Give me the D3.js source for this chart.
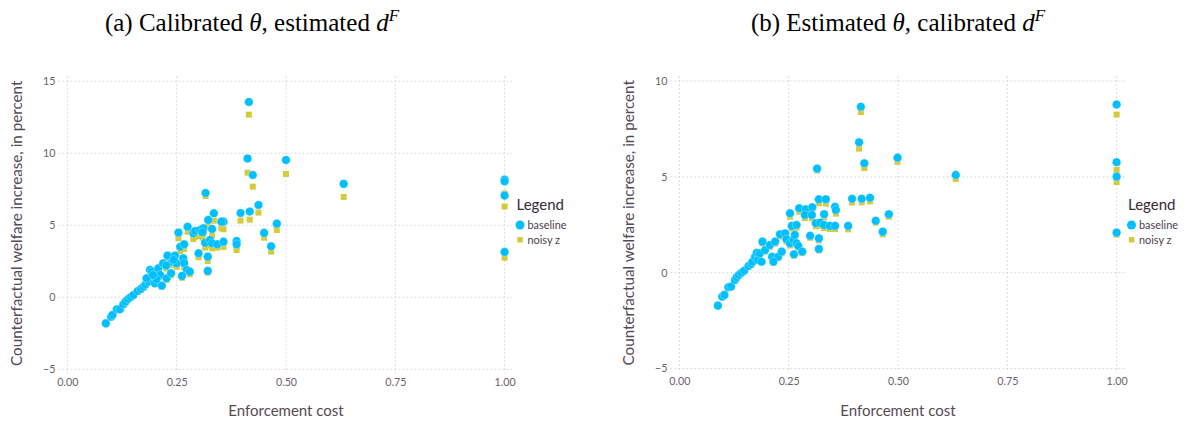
<!DOCTYPE html>
<html>
<head>
<meta charset="utf-8">
<script src="https://cdn.jsdelivr.net/npm/d3@7"></script>
<style>
  html, body { margin: 0; padding: 0; background: #fff; }
  svg { display: block; }
  .tick text { font-family: Lato, "Open Sans", sans-serif; font-size: 10.7px; fill: #6c606b; }
</style>
</head>
<body>
<svg id="fig" width="1190" height="425"></svg>
<script>
// Panel (a): calibrated theta, estimated d^F
const costA = [0.088,0.100,0.103,0.113,0.120,0.128,0.133,0.139,0.145,0.151,0.161,0.168,0.174,0.179,0.185,0.181,0.189,0.193,0.200,0.208,0.212,0.219,0.216,0.227,0.229,0.237,0.239,0.246,0.250,0.254,0.258,0.267,0.265,0.267,0.273,0.280,0.262,0.275,0.288,0.292,0.303,0.311,0.300,0.321,0.321,0.315,0.326,0.331,0.343,0.357,0.322,0.335,0.357,0.352,0.331,0.309,0.316,0.415,0.412,0.500,0.424,0.437,0.396,0.417,0.479,0.450,0.466,0.387,0.387,0.632,1.000,1.000,1.000,1.000,0.243,0.226,0.204,0.196];
const baselineA = [-1.81,-1.35,-1.23,-0.83,-0.83,-0.49,-0.30,-0.12,0.02,0.16,0.44,0.58,0.74,0.90,1.08,1.32,1.90,1.78,0.97,2.01,1.55,2.36,0.81,1.32,2.89,1.67,2.47,2.89,2.36,4.49,3.51,3.68,2.71,2.36,1.90,1.78,1.48,4.90,4.44,4.60,4.67,4.79,3.06,2.82,1.83,3.79,3.98,3.75,3.68,3.86,5.37,5.83,5.25,5.25,4.74,4.51,7.24,13.56,9.63,9.53,8.49,6.41,5.85,5.95,5.11,4.47,3.54,3.91,3.68,7.87,8.17,8.05,7.06,3.15,2.60,2.20,1.25,1.55];
const noisyA = [-1.75,-1.40,-1.28,-0.86,-0.85,-0.50,-0.32,-0.13,0.00,0.14,0.40,0.52,0.68,0.84,1.00,1.22,1.75,1.62,0.90,1.85,1.42,2.15,0.75,1.20,2.65,1.52,2.25,2.62,2.12,4.10,3.20,3.35,2.45,2.10,1.70,1.60,1.35,4.55,4.05,4.20,4.25,4.40,2.78,2.52,1.71,3.45,3.60,3.40,3.45,3.50,4.90,5.32,4.72,4.80,4.30,4.15,7.03,12.68,8.65,8.56,7.68,5.88,5.32,5.39,4.67,4.14,3.17,3.55,3.28,6.97,7.20,7.10,6.30,2.75,2.35,2.00,1.12,1.40];

// Panel (b): estimated theta, calibrated d^F
const costB = [0.088,0.098,0.103,0.112,0.118,0.127,0.131,0.136,0.142,0.148,0.158,0.164,0.167,0.173,0.177,0.180,0.184,0.188,0.190,0.196,0.207,0.212,0.219,0.226,0.234,0.215,0.230,0.242,0.245,0.253,0.261,0.264,0.268,0.272,0.281,0.262,0.253,0.257,0.268,0.274,0.289,0.304,0.287,0.303,0.319,0.335,0.331,0.356,0.358,0.312,0.322,0.331,0.344,0.356,0.386,0.299,0.319,0.319,0.315,0.395,0.417,0.436,0.449,0.479,0.465,0.415,0.411,0.423,0.499,0.632,1.000,1.000,1.000,1.000];
const baselineB = [-1.72,-1.25,-1.16,-0.76,-0.73,-0.38,-0.24,-0.12,0.00,0.10,0.35,0.45,0.57,0.83,1.04,0.66,1.01,0.57,1.62,1.18,1.44,0.83,1.62,0.83,1.10,0.57,2.00,2.05,1.74,1.53,1.71,1.97,1.53,1.39,1.10,0.96,3.10,2.44,2.49,3.36,3.31,3.41,3.01,3.01,3.83,3.83,3.05,3.44,3.27,2.58,2.61,2.49,2.44,2.44,2.44,1.93,1.79,1.24,5.43,3.86,3.86,3.91,2.71,3.05,2.14,8.66,6.80,5.71,6.00,5.10,8.77,5.76,5.01,2.09];
const noisyB = [-1.70,-1.22,-1.14,-0.74,-0.72,-0.37,-0.23,-0.12,0.00,0.09,0.32,0.42,0.53,0.78,0.98,0.62,0.95,0.54,1.52,1.10,1.35,0.77,1.52,0.76,1.02,0.52,1.88,1.92,1.62,1.42,1.60,1.85,1.42,1.30,1.02,0.88,2.92,2.30,2.35,3.18,3.12,3.22,2.85,2.84,3.62,3.60,2.88,3.25,3.08,2.42,2.45,2.33,2.28,2.27,2.26,1.82,1.68,1.16,5.33,3.66,3.67,3.72,2.61,2.92,2.00,8.38,6.47,5.46,5.78,4.89,8.25,5.36,4.73,1.98];

const costTicks = [0, 0.25, 0.5, 0.75, 1];
const welfareTicksA = [-5, 0, 5, 10, 15];
const welfareTicksB = [-5, 0, 5, 10];
const seriesNames = ["baseline", "noisy z"];

const BLUE = "#00bfff";
const YELLOW = "#d4ca3a";
const GRID = "#d0d0e0";
const sans = "Lato, 'Open Sans', sans-serif";

const svg = d3.select("#fig");

function panel(cfg) {
  const g = svg.append("g");
  const x = d3.scaleLinear().domain([0, 1]).range([cfg.x0, cfg.x1]);
  const y = d3.scaleLinear().domain([cfg.yTicks[0], cfg.yTicks[cfg.yTicks.length - 1]]).range([cfg.yBottom, cfg.yTop]);

  // dashed grid
  const grid = g.append("g").attr("stroke", GRID).attr("stroke-width", 0.8).attr("stroke-dasharray", "2,2");
  grid.selectAll("line.h").data(cfg.yTicks).join("line")
    .attr("x1", cfg.x0 - 9).attr("x2", cfg.x1 + 8)
    .attr("y1", d => y(d)).attr("y2", d => y(d));
  grid.selectAll("line.v").data(costTicks).join("line")
    .attr("x1", d => x(d)).attr("x2", d => x(d))
    .attr("y1", cfg.yTop - 5).attr("y2", cfg.yBottom + 4);

  // axes (labels only)
  const xAxis = g.append("g").attr("transform", `translate(0,${cfg.yBottom + 9})`)
    .call(d3.axisBottom(x).tickValues(costTicks).tickFormat(d3.format(".2f")).tickSize(0).tickPadding(0));
  xAxis.select(".domain").remove();
  xAxis.selectAll("text").attr("dy", "0.71em");

  const yAxis = g.append("g").attr("transform", `translate(${cfg.x0 - 12},0)`)
    .call(d3.axisLeft(y).tickValues(cfg.yTicks).tickFormat(d3.format("d")).tickSize(0).tickPadding(0));
  yAxis.select(".domain").remove();

  // axis titles
  g.append("text").attr("x", (cfg.x0 + cfg.x1) / 2).attr("y", 416)
    .attr("text-anchor", "middle").attr("font-family", sans).attr("font-size", 15)
    .attr("fill", "#564a55").text("Enforcement cost");
  g.append("text").attr("transform", `translate(${cfg.x0 - 45},${(cfg.yTop + cfg.yBottom) / 2 - 2}) rotate(-90)`)
    .attr("text-anchor", "middle").attr("font-family", sans).attr("font-size", 15.2)
    .attr("fill", "#564a55").text("Counterfactual welfare increase, in percent");

  // points: noisy z squares under baseline circles
  const sq = 6;
  g.append("g").selectAll("rect").data(cfg.cost).join("rect")
    .attr("x", d => x(d) - sq / 2)
    .attr("y", (d, i) => y(cfg.noisy[i]) - sq / 2)
    .attr("width", sq).attr("height", sq).attr("fill", YELLOW);
  g.append("g").selectAll("circle").data(cfg.cost).join("circle")
    .attr("cx", d => x(d))
    .attr("cy", (d, i) => y(cfg.baseline[i]))
    .attr("r", 4.3).attr("fill", BLUE)
    .attr("stroke", "#ffffff").attr("stroke-width", 0.3);

  // legend
  const lg = g.append("g").attr("transform", `translate(${cfg.legendX},0)`);
  lg.append("text").attr("x", 0).attr("y", 210).attr("font-family", sans).attr("font-size", 15)
    .attr("fill", "#362a35").text("Legend");
  lg.append("circle").attr("cx", 3.5).attr("cy", 225).attr("r", 4.5).attr("fill", BLUE);
  lg.append("rect").attr("x", 0.8).attr("y", 237).attr("width", 5.5).attr("height", 5.5).attr("fill", YELLOW);
  lg.selectAll("text.item").data(seriesNames).join("text")
    .attr("class", "item")
    .attr("x", 11).attr("y", (d, i) => 228.5 + i * 15)
    .attr("font-family", sans).attr("font-size", 10.9).attr("fill", "#4c404b")
    .text(d => d);
}

panel({ x0: 67.4, x1: 504.6, yTop: 81.2, yBottom: 369.3, yTicks: welfareTicksA,
        cost: costA, baseline: baselineA, noisy: noisyA, legendX: 516.5 });
panel({ x0: 679.4, x1: 1116.6, yTop: 81.0, yBottom: 368.5, yTicks: welfareTicksB,
        cost: costB, baseline: baselineB, noisy: noisyB, legendX: 1128 });

// panel titles
function title(cx, parts) {
  const t = svg.append("text").attr("x", cx).attr("y", 31).attr("text-anchor", "middle")
    .attr("font-family", "'Liberation Serif', 'DejaVu Serif', serif").attr("font-size", 25).attr("fill", "#000");
  parts.forEach(p => {
    const s = t.append("tspan").text(p.t);
    if (p.i) s.attr("font-style", "italic");
    if (p.sup) s.attr("font-size", 17).attr("baseline-shift", "60%");
  });
}
title(252, [{ t: "(a) Calibrated " }, { t: "θ", i: true }, { t: ", estimated " }, { t: "d", i: true }, { t: "F", i: true, sup: true }]);
title(898, [{ t: "(b) Estimated " }, { t: "θ", i: true }, { t: ", calibrated " }, { t: "d", i: true }, { t: "F", i: true, sup: true }]);
</script>
</body>
</html>
